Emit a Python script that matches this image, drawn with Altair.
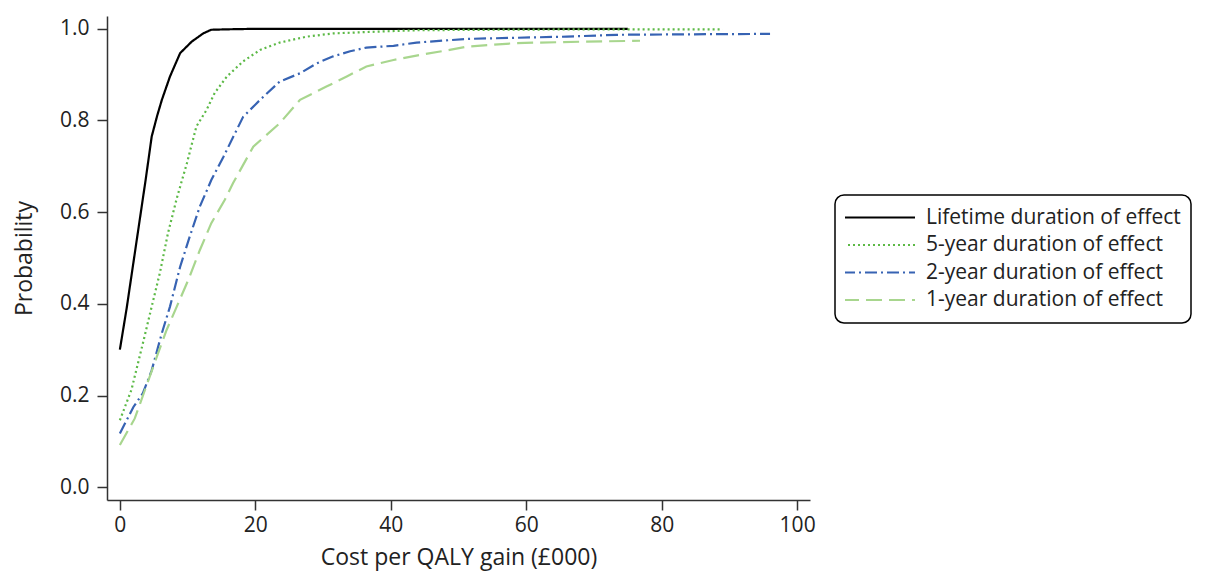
import altair as alt
import pandas as pd

series_names = [
    "Lifetime duration of effect",
    "5-year duration of effect",
    "2-year duration of effect",
    "1-year duration of effect",
]
series_colors = ["#000000", "#5cb946", "#3763b3", "#a8d68e"]
series_dashes = [[1, 0], [2, 3], [12, 4, 2, 4], [16, 7]]

lifetime_x = [0, 1, 2, 3, 3.8, 4.7, 5.5, 6.2, 7.4, 8.9, 10.6, 12.3, 13.5, 16, 20, 30, 75]
lifetime_y = [0.30, 0.39, 0.49, 0.59, 0.67, 0.765, 0.81, 0.845, 0.896, 0.947, 0.972, 0.99,
              0.998, 0.999, 1.0, 1.0, 1.0]

five_x = [0, 1.7, 3.4, 4.7, 5.9, 7.1, 8.4, 9.9, 11.3, 12.8, 14.0, 15.8, 18.2, 20.7, 23.6,
          27.6, 31.5, 36.4, 43.8, 55, 70, 89]
five_y = [0.146, 0.212, 0.314, 0.394, 0.467, 0.554, 0.630, 0.707, 0.787, 0.823, 0.86, 0.896,
          0.929, 0.954, 0.970, 0.983, 0.990, 0.993, 0.997, 0.998, 0.999, 0.999]

two_x = [0, 2.0, 3.4, 4.7, 6.2, 7.4, 8.9, 10.3, 11.8, 13.5, 15.3, 18.2, 20.7, 23.6, 26.6,
         29.1, 31.5, 34.0, 36.4, 40.4, 43.8, 51.2, 66, 73.4, 83.2, 96]
two_y = [0.117, 0.175, 0.205, 0.255, 0.336, 0.394, 0.481, 0.546, 0.612, 0.67, 0.721, 0.808,
         0.845, 0.885, 0.903, 0.925, 0.940, 0.951, 0.959, 0.963, 0.970, 0.978, 0.983, 0.987,
         0.988, 0.989]

one_x = [0, 2.2, 3.7, 5.2, 6.9, 8.4, 10.1, 11.8, 13.5, 15.5, 16.7, 19.7, 23.6, 26.6, 30.5,
         33.5, 36.4, 40.4, 44.3, 48.7, 51.2, 58.6, 68.4, 76.8]
one_y = [0.092, 0.15, 0.212, 0.274, 0.343, 0.394, 0.452, 0.517, 0.576, 0.627, 0.663, 0.743,
         0.794, 0.845, 0.874, 0.896, 0.918, 0.932, 0.943, 0.954, 0.961, 0.969, 0.972, 0.974]

x_ticks = [0, 20, 40, 60, 80, 100]
y_ticks = [0.0, 0.2, 0.4, 0.6, 0.8, 1.0]

rows = []
for name, xs, ys in zip(series_names,
                        [lifetime_x, five_x, two_x, one_x],
                        [lifetime_y, five_y, two_y, one_y]):
    for i, (xv, yv) in enumerate(zip(xs, ys)):
        rows.append({"series": name, "cost": xv, "prob": yv, "order": i})
df = pd.DataFrame(rows)

FONT = "Open Sans"

legend = alt.Legend(
    title=None,
    orient="none",
    legendX=728,
    legendY=179,
    strokeColor="#000000",
    fillColor="#ffffff",
    cornerRadius=9,
    padding=10,
    symbolType="stroke",
    symbolSize=5184,
    symbolStrokeWidth=2,
    symbolOffset=-3,
    clipHeight=25,
    rowPadding=2.5,
    labelFont=FONT,
    labelFontSize=21,
    labelColor="#222222",
    labelOffset=10,
    labelLimit=400,
)

chart = alt.Chart(df).mark_line(strokeWidth=2.2).encode(
    x=alt.X("cost:Q",
            scale=alt.Scale(domain=[-1.9, 101.9], nice=False, zero=False),
            axis=alt.Axis(values=x_ticks, title="Cost per QALY gain (£000)", format="d")),
    y=alt.Y("prob:Q",
            scale=alt.Scale(domain=[-0.028, 1.028], nice=False, zero=False),
            axis=alt.Axis(values=y_ticks, title="Probability", format=".1f")),
    color=alt.Color("series:N",
                    scale=alt.Scale(domain=series_names, range=series_colors),
                    legend=legend),
    strokeDash=alt.StrokeDash("series:N",
                              scale=alt.Scale(domain=series_names, range=series_dashes),
                              legend=legend),
    order="order:Q",
).properties(
    width=703,
    height=484,
    autosize=alt.AutoSizeParams(type="none"),
    padding={"left": 99, "top": 8, "right": 401, "bottom": 72},
).configure_view(
    stroke=None
).configure_legend(
    strokeWidth=1.5,
).configure_axis(
    grid=False,
    domainColor="#333333",
    domainWidth=1.5,
    tickColor="#333333",
    tickWidth=1.5,
    tickSize=10,
    labelFont=FONT,
    labelFontSize=21,
    labelColor="#222222",
    titleFont=FONT,
    titleFontSize=23,
    titleFontWeight="normal",
    titleColor="#222222",
).configure_axisX(
    labelPadding=4,
    titlePadding=11,
).configure_axisY(
    labelPadding=8,
    titlePadding=23,
)

chart.save("out.html", embed_options={"renderer": "svg", "actions": False})
